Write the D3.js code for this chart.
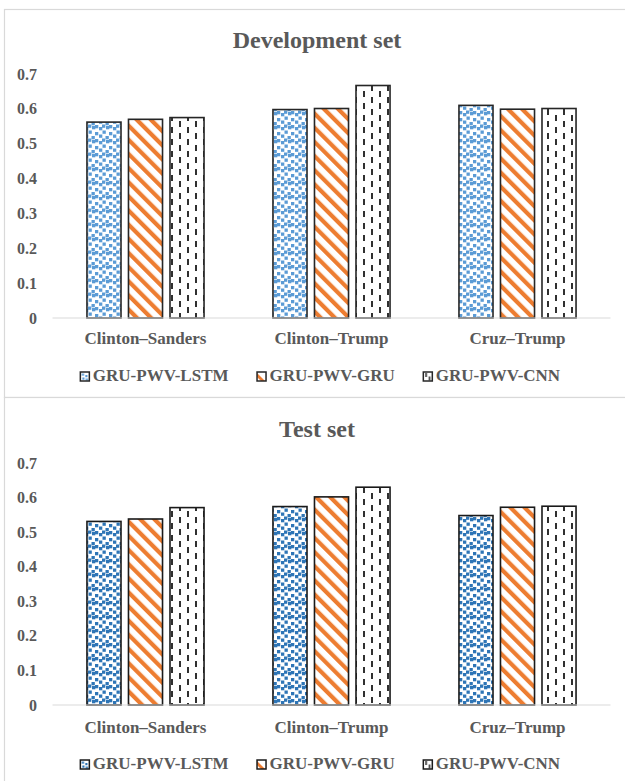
<!DOCTYPE html>
<html>
<head>
<meta charset="utf-8">
<script src="https://cdn.jsdelivr.net/npm/d3@7"></script>
<style>
  html, body { margin: 0; padding: 0; background: #fff; }
  svg { display: block; }
  text { font-family: "Liberation Serif", "Times New Roman", serif; font-weight: bold; fill: #595959; }
</style>
</head>
<body>
<script>
// ---- data ----
const categories = ["Clinton\u2013Sanders", "Clinton\u2013Trump", "Cruz\u2013Trump"];
const seriesNames = ["GRU-PWV-LSTM", "GRU-PWV-GRU", "GRU-PWV-CNN"];
const devValues = {
  "GRU-PWV-LSTM": [0.562, 0.598, 0.610],
  "GRU-PWV-GRU":  [0.570, 0.601, 0.599],
  "GRU-PWV-CNN":  [0.575, 0.667, 0.601]
};
const testValues = {
  "GRU-PWV-LSTM": [0.531, 0.574, 0.548],
  "GRU-PWV-GRU":  [0.538, 0.602, 0.572],
  "GRU-PWV-CNN":  [0.571, 0.630, 0.575]
};
const yTicks = [0, 0.1, 0.2, 0.3, 0.4, 0.5, 0.6, 0.7];
const yTickLabels = ["0", "0.1", "0.2", "0.3", "0.4", "0.5", "0.6", "0.7"];
const panelTitles = ["Development set", "Test set"];

const W = 625, H = 781;
const svg = d3.select("body").append("svg").attr("width", W).attr("height", H);
const defs = svg.append("defs");

const confetti = [[1,1],[8,0],[4.5,4.5],[11,6],[1,8.5],[7.5,10],[4,12.5],[11,13]];
function makePatterns(prefix, blue) {
  // confetti (LSTM)
  const T = 14;
  const p1 = defs.append("pattern").attr("id", prefix + "-lstm")
    .attr("patternUnits", "userSpaceOnUse").attr("width", T).attr("height", T);
  p1.append("rect").attr("width", T).attr("height", T).attr("fill", "#fff");
  confetti.forEach(([x,y]) => {
    [[0,0],[-T,0],[0,-T],[-T,-T]].forEach(([dx,dy]) => {
      p1.append("rect").attr("x", x+dx).attr("y", y+dy).attr("width", 3.3).attr("height", 3.3).attr("fill", blue);
    });
  });
  // wide downward diagonal (GRU)
  const p2 = defs.append("pattern").attr("id", prefix + "-gru")
    .attr("patternUnits", "userSpaceOnUse").attr("width", 10).attr("height", 10)
    .attr("patternTransform", "rotate(-45)");
  p2.append("rect").attr("width", 10).attr("height", 10).attr("fill", "#fff");
  p2.append("rect").attr("x", 0).attr("y", 0).attr("width", 4.2).attr("height", 10).attr("fill", "#ED7D31");
  // dashed vertical (CNN)
  const p3 = defs.append("pattern").attr("id", prefix + "-cnn")
    .attr("patternUnits", "userSpaceOnUse").attr("width", 16).attr("height", 12);
  p3.append("rect").attr("width", 16).attr("height", 12).attr("fill", "#fff");
  p3.append("rect").attr("x", 3).attr("y", 1).attr("width", 2).attr("height", 6).attr("fill", "#303030");
  p3.append("rect").attr("x", 11).attr("y", 7).attr("width", 2).attr("height", 6).attr("fill", "#303030");
  p3.append("rect").attr("x", 11).attr("y", -5).attr("width", 2).attr("height", 6).attr("fill", "#303030");

  // legend-key versions (anchored to each key box)
  const l1 = defs.append("pattern").attr("id", prefix + "-leg-lstm")
    .attr("patternUnits", "objectBoundingBox").attr("width", 1).attr("height", 1);
  l1.append("rect").attr("width", 9).attr("height", 9).attr("fill", "#fff");
  [[1.5,1.5],[5,3],[2,5.5],[5.5,6.5]].forEach(([x,y]) =>
    l1.append("rect").attr("x", x).attr("y", y).attr("width", 2.2).attr("height", 2.2).attr("fill", blue));
  const l2 = defs.append("pattern").attr("id", prefix + "-leg-gru")
    .attr("patternUnits", "objectBoundingBox").attr("width", 1).attr("height", 1);
  l2.append("rect").attr("width", 9).attr("height", 9).attr("fill", "#fff");
  l2.append("path").attr("d", "M0,1 L0,5 L4,9 L8,9 Z").attr("fill", "#ED7D31");
  const l3 = defs.append("pattern").attr("id", prefix + "-leg-cnn")
    .attr("patternUnits", "objectBoundingBox").attr("width", 1).attr("height", 1);
  l3.append("rect").attr("width", 9).attr("height", 9).attr("fill", "#fff");
  l3.append("rect").attr("x", 2).attr("y", 1).attr("width", 1.6).attr("height", 4).attr("fill", "#303030");
  l3.append("rect").attr("x", 5.5).attr("y", 4.5).attr("width", 1.6).attr("height", 4).attr("fill", "#303030");
}
makePatterns("dev", "#5B9BD5");
makePatterns("test", "#2E75B6");
const fillKey = {"GRU-PWV-LSTM": "lstm", "GRU-PWV-GRU": "gru", "GRU-PWV-CNN": "cnn"};

function drawPanel(cfg) {
  const g = svg.append("g");
  // panel border
  g.append("rect").attr("x", 4.5).attr("y", cfg.top + 0.5)
    .attr("width", W + 10).attr("height", cfg.height)
    .attr("fill", "#fff").attr("stroke", "#d9d9d9").attr("stroke-width", 1.2);

  g.append("text").attr("x", 317).attr("y", cfg.titleY).attr("text-anchor", "middle")
    .style("font-size", "24px").text(cfg.title);

  const y = d3.scaleLinear().domain([0, 0.7]).range([cfg.y0, cfg.y7]);
  const x = d3.scaleBand().domain(categories).range([52.5, 610.5]).padding(0);
  const xs = d3.scaleBand().domain(seriesNames).range([0, x.bandwidth()])
    .paddingInner(0.18).paddingOuter(0.83);

  // y tick labels
  g.selectAll(".ytl").data(yTicks).join("text")
    .attr("x", 37).attr("y", d => y(d)).attr("dy", "0.35em")
    .attr("text-anchor", "end").style("font-size", "16px")
    .text((d, i) => yTickLabels[i]);

  // bars
  seriesNames.forEach(s => {
    g.selectAll(".bar-" + fillKey[s]).data(cfg.values[s]).join("rect")
      .attr("x", (d, i) => x(categories[i]) + xs(s))
      .attr("y", d => y(d))
      .attr("width", xs.bandwidth())
      .attr("height", d => y(0) - y(d))
      .attr("fill", `url(#${cfg.prefix}-${fillKey[s]})`)
      .attr("stroke", cfg.barStroke).attr("stroke-width", 1.6);
  });

  // baseline axis
  g.append("line").attr("x1", 52.5).attr("x2", 610.5)
    .attr("y1", y(0)).attr("y2", y(0))
    .attr("stroke", "#d9d9d9").attr("stroke-width", 1.2);

  // category labels
  g.selectAll(".cat").data(categories).join("text")
    .attr("x", d => x(d) + x.bandwidth() / 2).attr("y", cfg.catY)
    .attr("text-anchor", "middle").style("font-size", "17px").text(d => d);

  // legend
  const lg = g.append("g");
  let cx = 0;
  seriesNames.forEach((s, i) => {
    const it = lg.append("g").attr("transform", `translate(${cx},0)`);
    it.append("rect").attr("x", 0.5).attr("y", -9).attr("width", 9).attr("height", 9)
      .attr("fill", `url(#${cfg.prefix}-leg-${fillKey[s]})`)
      .attr("stroke", cfg.barStroke).attr("stroke-width", 1.5);
    const t = it.append("text").attr("x", 13).attr("y", 0).style("font-size", "17px").text(s);
    cx += 13 + t.node().getComputedTextLength() + 28;
  });
  const lw = cx - 28;
  lg.attr("transform", `translate(${320 - lw / 2},${cfg.legY})`);
}

drawPanel({ top: 9, height: 388, title: panelTitles[0], titleY: 48, y0: 318, y7: 74,
  values: devValues, prefix: "dev", barStroke: "#262626", catY: 344, legY: 381 });
drawPanel({ top: 397, height: 400, title: panelTitles[1], titleY: 437, y0: 705, y7: 463,
  values: testValues, prefix: "test", barStroke: "#1a1a1a", catY: 733, legY: 769 });
</script>
</body>
</html>
